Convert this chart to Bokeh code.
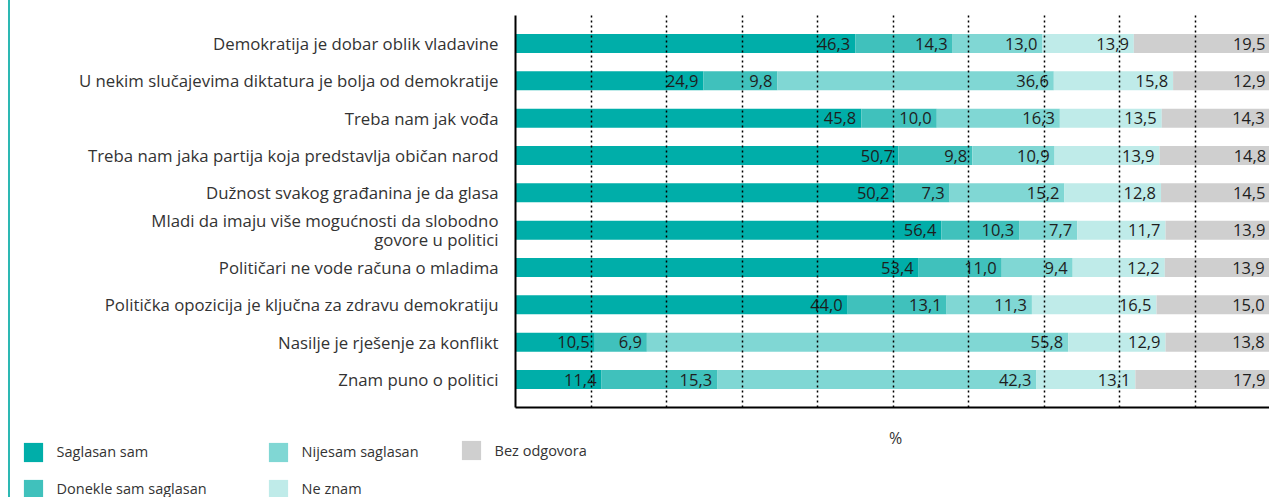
from bokeh.plotting import figure
from bokeh.models import (ColumnDataSource, Range1d, FixedTicker, Legend, LegendItem, Label)
from bokeh.core.properties import value
from bokeh.embed import file_html
from bokeh.resources import INLINE

categories = [
    "Demokratija je dobar oblik vladavine",
    "U nekim slučajevima diktatura je bolja od demokratije",
    "Treba nam jak vođa",
    "Treba nam jaka partija koja predstavlja običan narod",
    "Dužnost svakog građanina je da glasa",
    "Mladi da imaju više mogućnosti da slobodno\ngovore u politici",
    "Političari ne vode računa o mladima",
    "Politička opozicija je ključna za zdravu demokratiju",
    "Nasilje je rješenje za konflikt",
    "Znam puno o politici",
]

series_names = ["Saglasan sam", "Donekle sam saglasan", "Nijesam saglasan", "Ne znam", "Bez odgovora"]
colors = ["#00AEA9", "#40C1BC", "#80D7D4", "#BFEBE9", "#CFCFCF"]

# bar lengths (as drawn)
saglasan = [45.0, 24.9, 45.8, 50.7, 50.2, 56.4, 53.4, 44.0, 10.5, 11.4]
donekle = [12.9, 9.8, 10.0, 9.8, 7.3, 10.3, 11.0, 13.1, 6.9, 15.3]
nijesam = [11.9, 36.6, 16.3, 10.9, 15.2, 7.7, 9.4, 11.3, 55.8, 42.3]
ne_znam = [12.1, 15.8, 13.5, 13.9, 12.8, 11.7, 12.2, 16.5, 12.9, 13.1]
bez = [18.1, 12.9, 14.3, 14.8, 14.5, 13.9, 13.9, 15.0, 13.8, 17.9]

# printed value labels
lab_saglasan = ["46,3", "24,9", "45,8", "50,7", "50,2", "56,4", "53,4", "44,0", "10,5", "11,4"]
lab_donekle = ["14,3", "9,8", "10,0", "9,8", "7,3", "10,3", "11,0", "13,1", "6,9", "15,3"]
lab_nijesam = ["13,0", "36,6", "16,3", "10,9", "15,2", "7,7", "9,4", "11,3", "55,8", "42,3"]
lab_ne_znam = ["13,9", "15,8", "13,5", "13,9", "12,8", "11,7", "12,2", "16,5", "12,9", "13,1"]
lab_bez = ["19,5", "12,9", "14,3", "14,8", "14,5", "13,9", "13,9", "15,0", "13,8", "17,9"]

grid_ticks = [10, 20, 30, 40, 50, 60, 70, 80, 90, 100]
x_label = "%"

series = [saglasan, donekle, nijesam, ne_znam, bez]
labels = [lab_saglasan, lab_donekle, lab_nijesam, lab_ne_znam, lab_bez]

FONT = "Open Sans"
BORDER = {"margin-left": "8px", "border-left": "2px solid #2DB8B3"}
n = len(categories)
ys = list(range(1, n + 1))

p = figure(width=1261, height=416, output_backend="svg", toolbar_location=None,
           x_range=Range1d(0, 100), y_range=Range1d(n + 0.75, 0.25),
           min_border_left=505, min_border_right=1, min_border_top=15, min_border_bottom=9)
p.outline_line_color = None
p.styles = BORDER

left = [0.0] * n
renderers = []
for vals, labs, col in zip(series, labels, colors):
    right = [a + b for a, b in zip(left, vals)]
    src = ColumnDataSource(dict(y=ys, left=left, right=right, lab=labs))
    r = p.hbar(y="y", left="left", right="right", height=0.51, source=src,
               fill_color=col, line_color=None)
    renderers.append(r)
    p.text(x="right", y="y", text="lab", source=src, text_align="right",
           text_baseline="middle", x_offset=-5, text_font=value(FONT),
           text_font_size="16.5px", text_color="#1e1e1e")
    left = right

# axes
p.xaxis.ticker = FixedTicker(ticks=[])
p.xaxis.axis_line_width = 2
p.xaxis.axis_line_color = "black"
p.xaxis.major_tick_line_color = None
p.xaxis.minor_tick_line_color = None
p.xaxis.major_label_text_font_size = "0px"

p.yaxis.ticker = FixedTicker(ticks=ys)
p.yaxis.major_label_overrides = {y: c for y, c in zip(ys, categories)}
p.yaxis.major_label_text_font = FONT
p.yaxis.major_label_text_font_size = "16.8px"
p.yaxis.major_label_text_line_height = 0.8
p.yaxis.major_label_text_color = "#333333"
p.yaxis.major_label_standoff = 17
p.yaxis.major_tick_in = 0
p.yaxis.major_tick_out = 0
p.yaxis.major_tick_line_color = None
p.yaxis.minor_tick_line_color = None
p.yaxis.axis_line_width = 2
p.yaxis.axis_line_color = "black"

p.ygrid.grid_line_color = None
p.xgrid.ticker = FixedTicker(ticks=grid_ticks)
p.xgrid.grid_line_color = "black"
p.xgrid.grid_line_dash = "2 3"
p.xgrid.grid_line_width = 1.5
p.xgrid.level = "overlay"

# lower figure: axis title and legend
W2, H2 = 1261, 81
p2 = figure(width=W2, height=H2, output_backend="svg", toolbar_location=None,
            x_range=Range1d(0, W2), y_range=Range1d(0, H2),
            min_border=0, x_axis_location=None, y_axis_location=None)
p2.outline_line_color = None
p2.xgrid.visible = False
p2.ygrid.visible = False
p2.styles = BORDER

p2.add_layout(Label(x=885, y=60, text=x_label, text_align="center", text_baseline="middle",
                    text_font=FONT, text_font_size="16px", text_color="#333333"))

leg_src = ColumnDataSource(dict(y=[-100], left=[0], right=[1]))
leg_renderers = [p2.hbar(y="y", left="left", right="right", height=1, source=leg_src,
                         fill_color=c, line_color=None) for c in colors]

def make_legend(idx, loc):
    items = [LegendItem(label=series_names[i], renderers=[leg_renderers[i]]) for i in idx]
    lg = Legend(items=items, location=loc, orientation="vertical",
                glyph_width=24, glyph_height=24, label_standoff=12, spacing=13,
                padding=0, margin=0, border_line_color=None,
                background_fill_alpha=0, label_text_font=FONT,
                label_text_font_size="14.5px", label_text_color="#333333")
    p2.add_layout(lg, "center")

make_legend([0, 1], (10.6, -3.6))
make_legend([2, 3], (255.6, -3.6))
make_legend([4], (448.6, 34.7))

open("out.html", "w").write(file_html([p, p2], INLINE))
